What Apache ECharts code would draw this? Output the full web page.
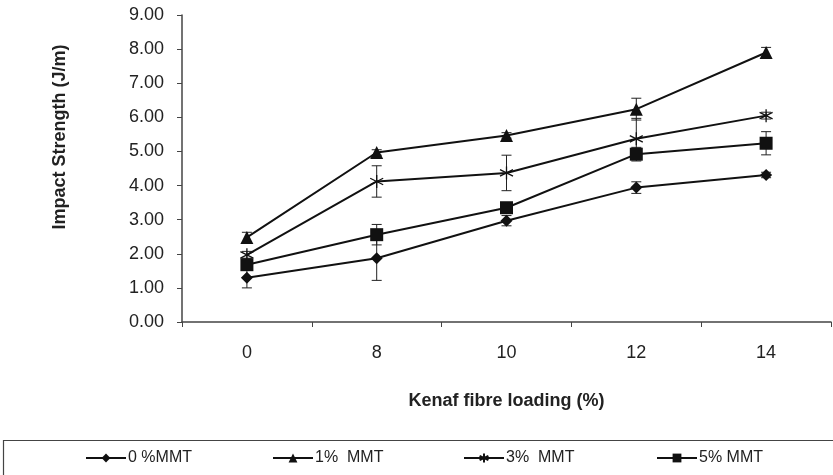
<!DOCTYPE html>
<html>
<head>
<meta charset="utf-8">
<script src="https://cdn.jsdelivr.net/npm/echarts@6/dist/echarts.min.js"></script>
<style>
  html, body {margin: 0; padding: 0; background: #fff;}
  #main {width: 833px; height: 475px;}
</style>
</head>
<body>
<div id="main"></div>
<script>
// kenaf fibre loading (%)
const categories = ['0', '8', '10', '12', '14'];
const seriesNames = ['0 %MMT', '1%  MMT', '3%  MMT', '5% MMT'];
// impact strength (J/m)
const mmt0 = [1.30, 1.87, 2.97, 3.94, 4.31];
const mmt1 = [2.48, 4.97, 5.47, 6.24, 7.90];
const mmt3 = [1.97, 4.12, 4.37, 5.37, 6.05];
const mmt5 = [1.68, 2.56, 3.35, 4.92, 5.24];
// error bar half widths
const err0 = [0.30, 0.65, 0.15, 0.17, 0.08];
const err1 = [0.15, 0.08, 0.08, 0.32, 0.15];
const err3 = [0.10, 0.46, 0.52, 0.60, 0.10];
const err5 = [0.12, 0.30, 0.10, 0.20, 0.34];
const yTicks = [0, 1, 2, 3, 4, 5, 6, 7, 8, 9];

const values = [mmt0, mmt1, mmt3, mmt5];
const errors = [err0, err1, err3, err5];
const symbols = [
  'diamond',
  'triangle',
  'path://M5,0L5,10M0.7,2.5L9.3,7.5M9.3,2.5L0.7,7.5',
  'rect'
];
const sizes = [12, 13, 13, 13];

const font = 'Liberation Sans, Arial, sans-serif';
const chart = echarts.init(document.getElementById('main'));

const errData = [];
values.forEach((vals, s) => {
  vals.forEach((v, i) => {
    errData.push([i, v - errors[s][i], v + errors[s][i]]);
  });
});

const lineSeries = values.map((vals, s) => ({
  name: seriesNames[s],
  type: 'line',
  data: vals,
  symbol: symbols[s],
  symbolSize: sizes[s],
  showAllSymbol: true,
  lineStyle: {color: '#111', width: 2},
  itemStyle: s === 2
    ? {color: 'rgba(0,0,0,0)', borderColor: '#111', borderWidth: 1.3}
    : {color: '#111', borderWidth: 0},
  emphasis: {disabled: true},
  z: 3
}));

const errSeries = {
  type: 'custom',
  data: errData,
  silent: true,
  z: 2,
  renderItem(params, api) {
    const i = api.value(0);
    const lo = api.coord([i, api.value(1)]);
    const hi = api.coord([i, api.value(2)]);
    const w = 5;
    const st = {stroke: '#222', lineWidth: 1};
    return {
      type: 'group',
      children: [
        {type: 'line', shape: {x1: lo[0], y1: lo[1], x2: hi[0], y2: hi[1]}, style: st},
        {type: 'line', shape: {x1: lo[0] - w, y1: lo[1], x2: lo[0] + w, y2: lo[1]}, style: st},
        {type: 'line', shape: {x1: hi[0] - w, y1: hi[1], x2: hi[0] + w, y2: hi[1]}, style: st}
      ]
    };
  }
};

const legendLefts = [85, 272, 463, 656];
const legends = seriesNames.map((n, s) => ({
  data: [n],
  left: legendLefts[s],
  top: 450,
  itemWidth: 40,
  itemHeight: 11,
  itemGap: 2,
  padding: 0,
  textStyle: {fontFamily: font, fontSize: 16, color: '#222', padding: [0, 0, 0, -3]},
  selectedMode: false
}));

chart.setOption({
  animation: false,
  backgroundColor: '#fff',
  grid: {left: 182, right: 2, top: 15, bottom: 153},
  legend: legends,
  xAxis: {
    type: 'category',
    data: categories,
    boundaryGap: true,
    name: 'Kenaf fibre loading (%)',
    nameLocation: 'middle',
    nameGap: 70,
    nameTextStyle: {fontFamily: font, fontSize: 18, fontWeight: 'bold', color: '#222'},
    axisLine: {lineStyle: {color: '#444', width: 1.5}},
    axisTick: {show: true, length: 5, alignWithLabel: false, lineStyle: {color: '#444'}},
    axisLabel: {fontFamily: font, fontSize: 18, color: '#222', margin: 22}
  },
  yAxis: {
    type: 'value',
    min: yTicks[0],
    max: yTicks[yTicks.length - 1],
    interval: 1,
    axisLine: {show: true, lineStyle: {color: '#444', width: 1.5}},
    axisTick: {show: true, length: 5, lineStyle: {color: '#444'}},
    splitLine: {show: false},
    axisLabel: {
      fontFamily: font, fontSize: 18, color: '#222', margin: 18,
      formatter: v => v.toFixed(2)
    }
  },
  graphic: [
    {
      type: 'text',
      x: 60, y: 137,
      rotation: Math.PI / 2,
      style: {
        text: 'Impact Strength (J/m)',
        font: 'bold 18px Liberation Sans, Arial, sans-serif',
        fill: '#222',
        align: 'center',
        verticalAlign: 'middle'
      }
    },
    {
      type: 'rect',
      shape: {x: 3.5, y: 440.5, width: 840, height: 60},
      style: {fill: 'none', stroke: '#444', lineWidth: 1.2},
      z: -1
    }
  ],
  series: [errSeries].concat(lineSeries)
});
</script>
</body>
</html>
